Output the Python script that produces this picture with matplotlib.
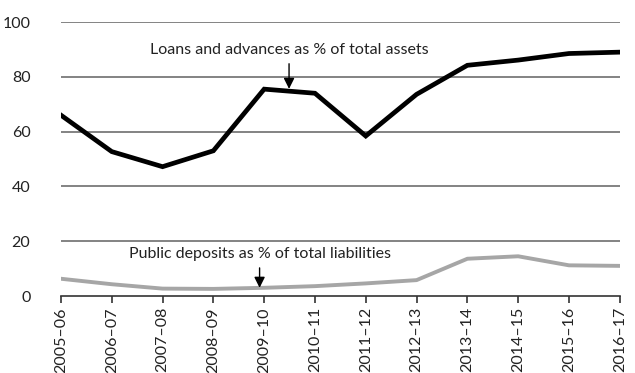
import matplotlib
matplotlib.use("Agg")
import matplotlib.pyplot as plt

years = ["2005\u201306", "2006\u201307", "2007\u201308", "2008\u201309", "2009\u201310", "2010\u201311",
         "2011\u201312", "2012\u201313", "2013\u201314", "2014\u201315", "2015\u201316", "2016\u201317"]
loans_pct_assets = [66.0, 52.7, 47.2, 53.0, 75.5, 74.0, 58.4, 73.6, 84.2, 86.1, 88.5, 89.0]
public_deposits_pct_liab = [6.3, 4.3, 2.7, 2.6, 3.0, 3.6, 4.6, 5.8, 13.6, 14.5, 11.2, 11.0]
yticks = [0, 20, 40, 60, 80, 100]

plt.rcParams['font.family'] = ['Lato', 'DejaVu Sans']

fig = plt.figure(figsize=(6.35, 3.73), dpi=100)
ax = fig.add_axes([0.096, 0.2064, 0.880, 0.7346])

x = list(range(len(years)))
for yv in yticks[1:]:
    ax.axhline(yv, color="#6e6e6e", lw=1.2, zorder=1)

ax.plot(x, loans_pct_assets, color="black", lw=3.4, solid_joinstyle="miter", zorder=3)
ax.plot(x, public_deposits_pct_liab, color="#a6a6a6", lw=2.8, zorder=3)

ax.set_xlim(0, len(years) - 1)
ax.set_ylim(0, 100)
ax.set_yticks(yticks)
ax.set_yticklabels([str(v) for v in yticks], fontsize=11.5, color="#222222")
ax.set_xticks(x)
ax.set_xticklabels(years, rotation=90, fontsize=11.5, color="#222222")
ax.tick_params(axis="y", length=0, pad=22)
ax.tick_params(axis="x", length=5, width=1.2, color="#333333", pad=3)

for side in ["top", "right", "left"]:
    ax.spines[side].set_visible(False)
ax.spines["bottom"].set_color("#333333")
ax.spines["bottom"].set_linewidth(1.2)

ax.annotate("Loans and advances as % of total assets", xy=(4.49, 75.6), xytext=(4.49, 87.3),
            ha="center", va="bottom", fontsize=11.5, color="#222222",
            arrowprops=dict(arrowstyle="-|>", color="black", lw=1.0, mutation_scale=16,
                            shrinkA=3, shrinkB=0))
ax.annotate("Public deposits as % of total liabilities", xy=(3.91, 3.0), xytext=(3.91, 12.8),
            ha="center", va="bottom", fontsize=11.5, color="#222222",
            arrowprops=dict(arrowstyle="-|>", color="black", lw=1.0, mutation_scale=16,
                            shrinkA=3, shrinkB=0))

fig.savefig("out.png", dpi=100)
